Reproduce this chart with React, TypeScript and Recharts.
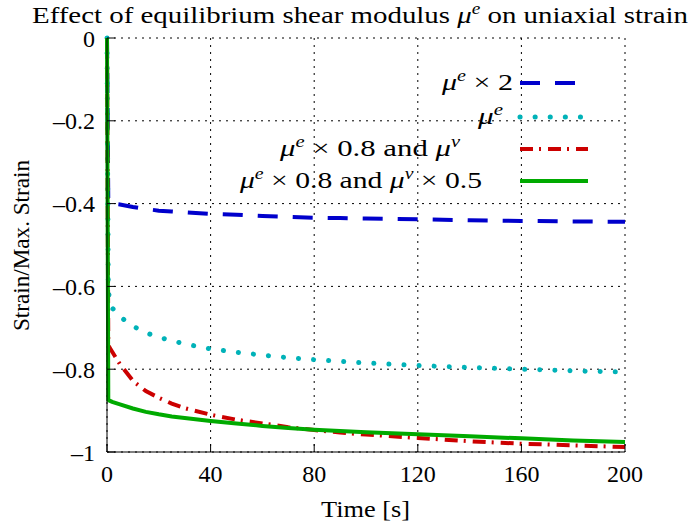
import React from 'react';
import { LineChart, Line, XAxis, YAxis, CartesianGrid } from 'recharts';

const times = [0, 0.5, 1, 2, 5, 10, 15, 20, 25, 30, 40, 50, 60, 70, 80, 90, 100, 120, 140, 160, 180, 200];
const muTimes2 = [0, -0.398, -0.399, -0.4, -0.402, -0.408, -0.413, -0.417, -0.419, -0.421, -0.425, -0.427, -0.43, -0.432, -0.434, -0.435, -0.436, -0.438, -0.44, -0.442, -0.443, -0.444];
const muBase = [0, -0.6, -0.64, -0.652, -0.673, -0.696, -0.712, -0.723, -0.731, -0.739, -0.751, -0.759, -0.766, -0.772, -0.777, -0.781, -0.785, -0.791, -0.796, -0.8, -0.804, -0.807];
const mu08Visc = [0, -0.742, -0.748, -0.758, -0.788, -0.828, -0.853, -0.869, -0.883, -0.894, -0.91, -0.922, -0.931, -0.94, -0.947, -0.953, -0.958, -0.966, -0.974, -0.98, -0.984, -0.988];
const mu08Visc05 = [0, -0.874, -0.876, -0.879, -0.885, -0.895, -0.903, -0.909, -0.914, -0.918, -0.925, -0.931, -0.937, -0.942, -0.946, -0.949, -0.952, -0.957, -0.962, -0.967, -0.972, -0.976];

const xTicks = [0, 40, 80, 120, 160, 200];
const yTicks = [-1, -0.8, -0.6, -0.4, -0.2, 0];

const data = times.map((t, i) => ({
  t,
  a: muTimes2[i],
  b: muBase[i],
  c: mu08Visc[i],
  d: mu08Visc05[i],
}));

const FONT = "'Liberation Serif', 'Times New Roman', serif";
const FS = 24;

const SERIES = [
  { key: 'a', color: '#0000cc', dash: '20 15', cap: 'butt', width: 4 },
  { key: 'b', color: '#00b2b8', dash: '0.1 15', cap: 'round', width: 5 },
  { key: 'c', color: '#cc0000', dash: '13 6 2 7', cap: 'butt', width: 4 },
  { key: 'd', color: '#00aa00', dash: undefined, cap: 'butt', width: 4 },
];

const MuSym = ({ sup }: { sup: string }) => (
  <>
    <tspan fontStyle="italic">μ</tspan>
    <tspan fontStyle="italic" fontSize={16} dy={-9}>{sup}</tspan>
  </>
);

const Mu = ({ sup }: { sup: string }) => (
  <>
    <MuSym sup={sup} />
    <tspan dy={9}>{' '}</tspan>
  </>
);

const formatY = (v: number) => (v === 0 ? '0' : v === -1 ? '–1' : '–' + Math.abs(v).toFixed(1));

const Overlay = () => {
  // legend rows: left x, line y, text width (matching the LaTeX-set labels)
  const rows = [
    { x: 442, y: 83, w: 71, label: <><Mu sup="e" />× 2</> },
    { x: 478, y: 117, w: 25, label: <MuSym sup="e" /> },
    { x: 280, y: 149, w: 180, label: <><Mu sup="e" />× 0.8 and <MuSym sup="v" /></> },
    { x: 240, y: 181, w: 242, label: <><Mu sup="e" />× 0.8 and <Mu sup="v" />× 0.5</> },
  ];
  return (
    <svg width={691} height={531} style={{ position: 'absolute', left: 0, top: 0, pointerEvents: 'none' }}>
      <text x={32} y={23} textLength={656} lengthAdjust="spacingAndGlyphs" fontFamily={FONT} fontSize={FS} fill="#000">
        Effect of equilibrium shear modulus <Mu sup="e" />on uniaxial strain
      </text>
      <text x={321} y={517} textLength={89} lengthAdjust="spacingAndGlyphs" fontFamily={FONT} fontSize={FS} fill="#000">Time [s]</text>
      <text x={0} y={0} transform="translate(29,331) rotate(-90)" textLength={171} lengthAdjust="spacingAndGlyphs"
        fontFamily={FONT} fontSize={FS} fill="#000">
        Strain/Max. Strain
      </text>
      {rows.map((r, i) => (
        <g key={i}>
          <text x={r.x} y={r.y + 7} textLength={r.w} lengthAdjust="spacingAndGlyphs" fontFamily={FONT} fontSize={FS} fill="#000">{r.label}</text>
          <line x1={520} x2={588} y1={r.y} y2={r.y} stroke={SERIES[i].color} strokeWidth={SERIES[i].width}
            strokeDasharray={SERIES[i].dash} strokeLinecap={SERIES[i].cap as any} />
        </g>
      ))}
    </svg>
  );
};

export default function App() {
  return (
    <div style={{ position: 'absolute', left: 0, top: 0, width: 691, height: 531, background: '#fff' }}>
      <LineChart width={691} height={531} data={data} margin={{ top: 38, right: 66, bottom: 0, left: 0 }}>
        <CartesianGrid stroke="#000" strokeDasharray="2 5" strokeWidth={1} />
        <XAxis dataKey="t" type="number" domain={[0, 200]} ticks={xTicks} height={79}
          stroke="#000" tickSize={-8} tickMargin={21} interval={0}
          tick={{ fontFamily: FONT, fontSize: FS, fill: '#000' }} />
        <XAxis xAxisId="top" orientation="top" dataKey="t" type="number" domain={[0, 200]} ticks={xTicks}
          height={0} stroke="#000" tickSize={-8} tick={false} />
        <YAxis type="number" domain={[-1, 0]} ticks={yTicks} width={107} stroke="#000"
          tickSize={-8} tickMargin={20} interval={0} tickFormatter={formatY}
          tick={{ fontFamily: FONT, fontSize: FS, fill: '#000' }} />
        <YAxis yAxisId="right" orientation="right" type="number" domain={[-1, 0]} ticks={yTicks}
          width={0} stroke="#000" tickSize={-8} tick={false} />
        {SERIES.map((s) => (
          <Line key={s.key} dataKey={s.key} type="linear" stroke={s.color} strokeWidth={s.width}
            strokeDasharray={s.dash} strokeLinecap={s.cap as any} dot={false} activeDot={false}
            isAnimationActive={false} />
        ))}
      </LineChart>
      <Overlay />
    </div>
  );
}
